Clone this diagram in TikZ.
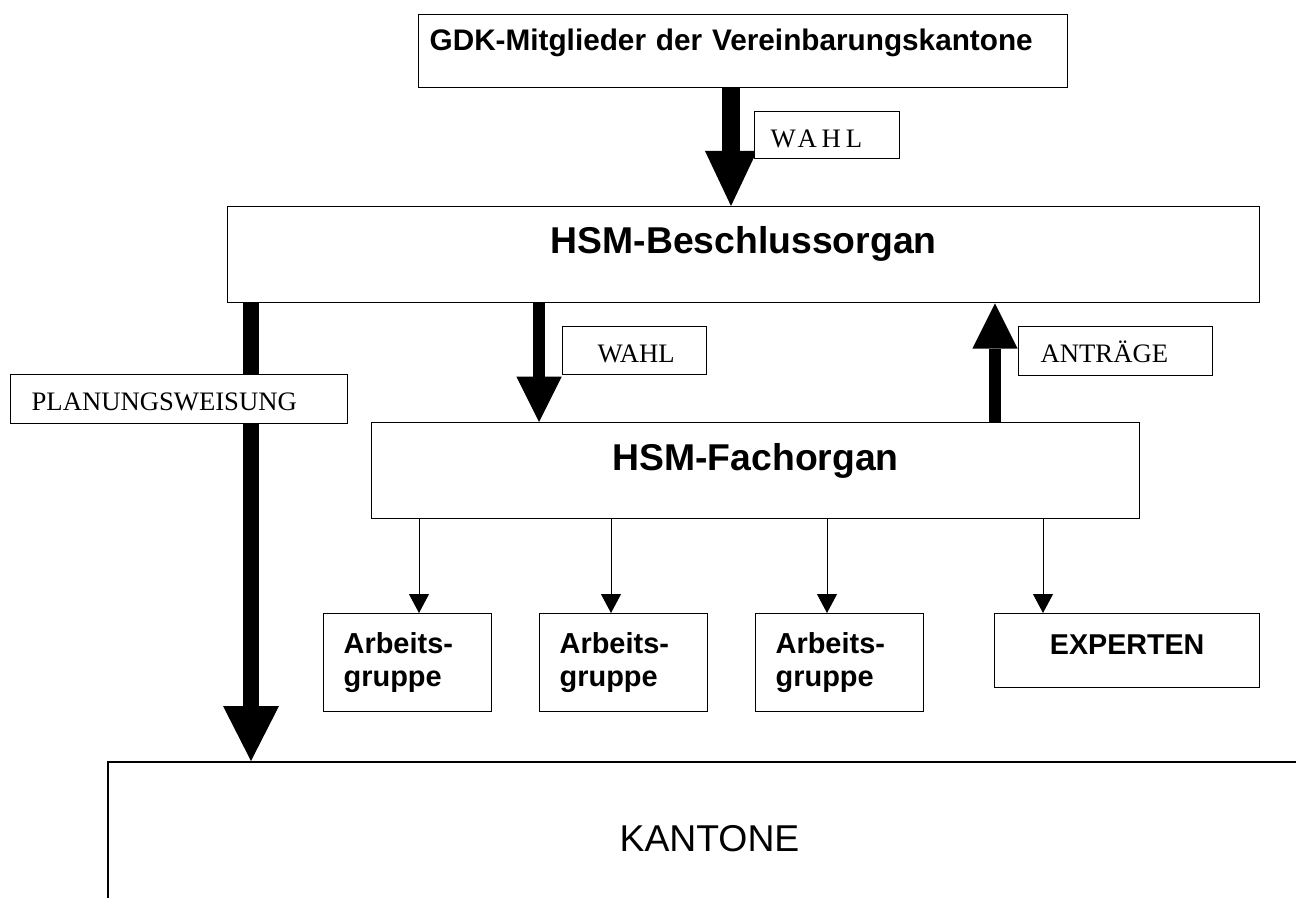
\documentclass[tikz,border=0pt]{standalone}
\usepackage{fontspec}
\setmainfont{Liberation Serif}
\setsansfont{Liberation Sans}
\usetikzlibrary{arrows.meta}
\tikzset{
    word-box/.style = {draw, fill=white, line width=1pt, rectangle, anchor=north west, inner sep=0pt},
    big-box/.style = {word-box, align=center, font=\sffamily\bfseries\fontsize{28pt}{32pt}\selectfont},
    group-box/.style = {word-box, align=left, inner xsep=15pt, text width=96pt, minimum height=73.5pt, font=\sffamily\bfseries\fontsize{21.7pt}{24.75pt}\selectfont},
    tag-box/.style = {word-box, align=left, font=\fontsize{20pt}{24pt}\selectfont},
    fat-arrow/.style n args = {3}{line width=#1, -{Triangle[width=#2, length=#3, line width=0pt]}},
    thin-arrow/.style = {line width=0.75pt, -{Triangle[width=15pt, length=14.25pt]}},
}

\begin{document}
\begin{tikzpicture}[x=0.75pt, y=-0.75pt]
\useasboundingbox (0,0) rectangle (1296,898);
\clip (0,0) rectangle (1296,898);

\node[word-box, line width=1.5pt, align=center, text width=902.25pt, text height=66.75pt, text depth=75pt, font=\sffamily\fontsize{28pt}{32pt}\selectfont] (kantone) at (107,761) {KANTONE};

\node[word-box, align=left, inner xsep=8.25pt, text width=470.25pt, text height=27pt, text depth=27.75pt, font=\sffamily\bfseries\fontsize{22.3pt}{24pt}\selectfont] (gdk) at (418,14) {GDK-Mitglieder der Vereinbarungskantone};
\node[big-box, text width=774pt, text height=35.25pt, text depth=36.75pt] (beschluss) at (227,206) {HSM-Beschlussorgan};
\node[big-box, text width=576pt, text height=36pt, text depth=36pt] (fach) at (371,422) {HSM-Fachorgan};

\node[group-box] (ag1) at (323,613) {Arbeits-\\gruppe};
\node[group-box] (ag2) at (539,613) {Arbeits-\\gruppe};
\node[group-box] (ag3) at (755,613) {Arbeits-\\gruppe};
\node[big-box, text width=198.75pt, text height=30.75pt, text depth=24.75pt, font=\sffamily\bfseries\fontsize{21.5pt}{24pt}\selectfont] (experten) at (994,613) {EXPERTEN};

\draw[fat-arrow={13.5pt}{39pt}{41.25pt}] (gdk.south -| 731,0) -- (beschluss.north -| 731,0);
\draw[fat-arrow={12pt}{42pt}{41.25pt}] (beschluss.south -| 251,0) -- (kantone.north -| 251,0);
\draw[fat-arrow={9pt}{34pt}{34pt}] (beschluss.south -| 539,0) -- (fach.north -| 539,0);
\draw[fat-arrow={9pt}{34pt}{34pt}] (fach.north -| 995,0) -- (beschluss.south -| 995,0);
\foreach \g/\x in {ag1/419, ag2/611, ag3/827, experten/1043}
    \draw[thin-arrow] (fach.south -| \x,0) -- (\g.north -| \x,0);

\node[tag-box, inner xsep=12pt, text width=84.75pt, text height=27pt, text depth=8.25pt] (wahl-gdk) at (754,111) {\addfontfeature{LetterSpace=18}WAHL};
\node[tag-box, inner xsep=26.25pt, text width=55.5pt, text height=27pt, text depth=9pt] (wahl-fach) at (562,326) {WAHL};
\node[tag-box, inner xsep=16.5pt, text width=112.5pt, text height=27pt, text depth=9.75pt] (antraege) at (1018,326) {ANTRÄGE};
\node[tag-box, inner xsep=15.75pt, text width=221.25pt, text height=27pt, text depth=9.75pt] (planung) at (10,374) {PLANUNGSWEISUNG};
\end{tikzpicture}
\end{document}
